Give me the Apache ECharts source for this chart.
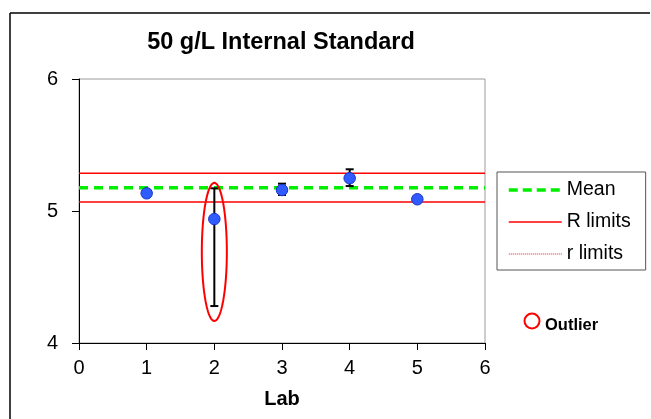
<!DOCTYPE html>
<html>
<head>
<meta charset="utf-8">
<script src="https://cdn.jsdelivr.net/npm/echarts@6/dist/echarts.min.js"></script>
<style>html,body{margin:0;padding:0;background:#fff;}#c{width:651px;height:419px;}</style>
</head>
<body>
<div id="c"></div>
<script>
const labs = [1, 2, 3, 4, 5];
const labMeans = [5.134, 4.939, 5.159, 5.248, 5.089];
const errLow = [5.125, 4.28, 5.121, 5.189, 5.084];
const errHigh = [5.143, 5.172, 5.207, 5.316, 5.094];
const meanValue = 5.177;
const RUpper = 5.286;
const RLower = 5.068;
const xRange = [0, 6];
const yRange = [4, 6];
// outlier ellipse: centre lab, centre value, half-width (lab units), half-height (value units)
const outlier = [2, 4.69, 0.185, 0.523];

const FONT = 'Liberation Sans, Arial, sans-serif';
const chart = echarts.init(document.getElementById('c'));

const points = labs.map((l, i) => [l, labMeans[i]]);
const errData = labs.map((l, i) => [l, errLow[i], errHigh[i]]);

chart.setOption({
  animation: false,
  backgroundColor: '#fff',
  title: {
    text: '50 g/L Internal Standard',
    left: 276, top: 26, textAlign: 'center',
    textStyle: { fontFamily: FONT, fontSize: 23.5, fontWeight: 'bold', color: '#000' }
  },
  grid: { left: 79, top: 79, right: 166, bottom: 76, show: true, borderColor: '#9a9a9a', borderWidth: 1, backgroundColor: '#fff' },
  legend: {
    orient: 'vertical', left: 497, top: 172,
    padding: [8, 15, 6, 10], itemGap: 12, itemWidth: 53, itemHeight: 18,
    borderColor: '#555', borderWidth: 1, backgroundColor: '#fff',
    itemStyle: { opacity: 0 },
    textStyle: { fontFamily: FONT, fontSize: 19.5, color: '#000' },
    data: [
      { name: 'Mean', lineStyle: { width: 3.5, type: [9, 5] } },
      { name: 'R limits', lineStyle: { width: 1.5 } },
      { name: 'r limits', lineStyle: { width: 1, type: [1, 1], color: '#cc2020' } }
    ],
    selectedMode: false
  },
  xAxis: {
    type: 'value', min: xRange[0], max: xRange[1], interval: 1,
    name: 'Lab', nameLocation: 'middle', nameGap: 46,
    nameTextStyle: { fontFamily: FONT, fontSize: 20, fontWeight: 'bold', color: '#000' },
    axisLine: { show: true, onZero: false, lineStyle: { color: '#000', width: 1 } },
    axisTick: { show: true, length: 7, lineStyle: { color: '#000' } },
    axisLabel: { fontFamily: FONT, fontSize: 20, color: '#000', margin: 15 },
    splitLine: { show: false }
  },
  yAxis: {
    type: 'value', min: yRange[0], max: yRange[1], interval: 1,
    axisLine: { show: true, onZero: false, lineStyle: { color: '#000', width: 1 } },
    axisTick: { show: true, length: 7, lineStyle: { color: '#000' } },
    axisLabel: { fontFamily: FONT, fontSize: 20, color: '#000', margin: 21 },
    splitLine: { show: false }
  },
  series: [
    {
      name: 'R limits', type: 'line', symbol: 'none', silent: true, z: 2,
      lineStyle: { color: '#ff0000', width: 1.5 }, itemStyle: { color: '#ff0000' },
      data: [[xRange[0], RUpper], [xRange[1], RUpper]]
    },
    {
      name: 'R limits', type: 'line', symbol: 'none', silent: true, z: 2,
      lineStyle: { color: '#ff0000', width: 1.5 }, itemStyle: { color: '#ff0000' },
      data: [[xRange[0], RLower], [xRange[1], RLower]]
    },
    {
      name: 'Mean', type: 'line', symbol: 'none', silent: true, z: 3,
      lineStyle: { color: '#00ee00', width: 3.5, type: [9, 6] }, itemStyle: { color: '#00ee00' },
      data: [[xRange[0], meanValue], [xRange[1], meanValue]]
    },
    {
      name: 'r limits', type: 'line', symbol: 'none', silent: true,
      lineStyle: { color: '#cc2020', width: 1, type: [1, 1] }, itemStyle: { color: '#cc2020' },
      data: []
    },
    {
      name: 'err', type: 'custom', z: 4, silent: true,
      data: errData,
      renderItem: function (params, api) {
        const x = api.value(0);
        const lo = api.coord([x, api.value(1)]);
        const hi = api.coord([x, api.value(2)]);
        const cap = 4;
        const st = { stroke: '#000', lineWidth: 2 };
        return {
          type: 'group',
          children: [
            { type: 'line', shape: { x1: hi[0], y1: hi[1], x2: lo[0], y2: lo[1] }, style: st },
            { type: 'line', shape: { x1: hi[0] - cap, y1: hi[1], x2: hi[0] + cap, y2: hi[1] }, style: st },
            { type: 'line', shape: { x1: lo[0] - cap, y1: lo[1], x2: lo[0] + cap, y2: lo[1] }, style: st }
          ]
        };
      }
    },
    {
      name: 'Lab mean', type: 'scatter', z: 5, symbol: 'circle', symbolSize: 11.5,
      itemStyle: { color: '#2f5bff', borderColor: '#1a35c8', borderWidth: 1, opacity: 1 },
      data: points
    },
    {
      name: 'outlier', type: 'custom', z: 6, silent: true,
      data: [outlier],
      renderItem: function (params, api) {
        const c = api.coord([api.value(0), api.value(1)]);
        const e = api.coord([api.value(0) + api.value(2), api.value(1) + api.value(3)]);
        const rx = Math.abs(e[0] - c[0]);
        const ry = Math.abs(e[1] - c[1]);
        const pts = [];
        for (let k = 0; k < 96; k++) {
          const a = k / 96 * Math.PI * 2;
          pts.push([c[0] + rx * Math.cos(a), c[1] + ry * Math.sin(a)]);
        }
        return { type: 'polygon', shape: { points: pts }, style: { fill: 'none', stroke: '#ff0000', lineWidth: 2 } };
      }
    }
  ],
  graphic: [
    { type: 'line', shape: { x1: 10, y1: 13, x2: 650, y2: 13 }, style: { stroke: '#000', lineWidth: 1.5 } },
    { type: 'line', shape: { x1: 10, y1: 13, x2: 10, y2: 419 }, style: { stroke: '#000', lineWidth: 1.5 } },
    { type: 'circle', shape: { cx: 532, cy: 321, r: 7.5 }, style: { fill: 'none', stroke: '#ff0000', lineWidth: 2 } },
    { type: 'text', left: 545, top: 317, style: { text: 'Outlier', fontFamily: FONT, fontSize: 16.5, fontWeight: 'bold', fill: '#000' } }
  ]
});
</script>
</body>
</html>
